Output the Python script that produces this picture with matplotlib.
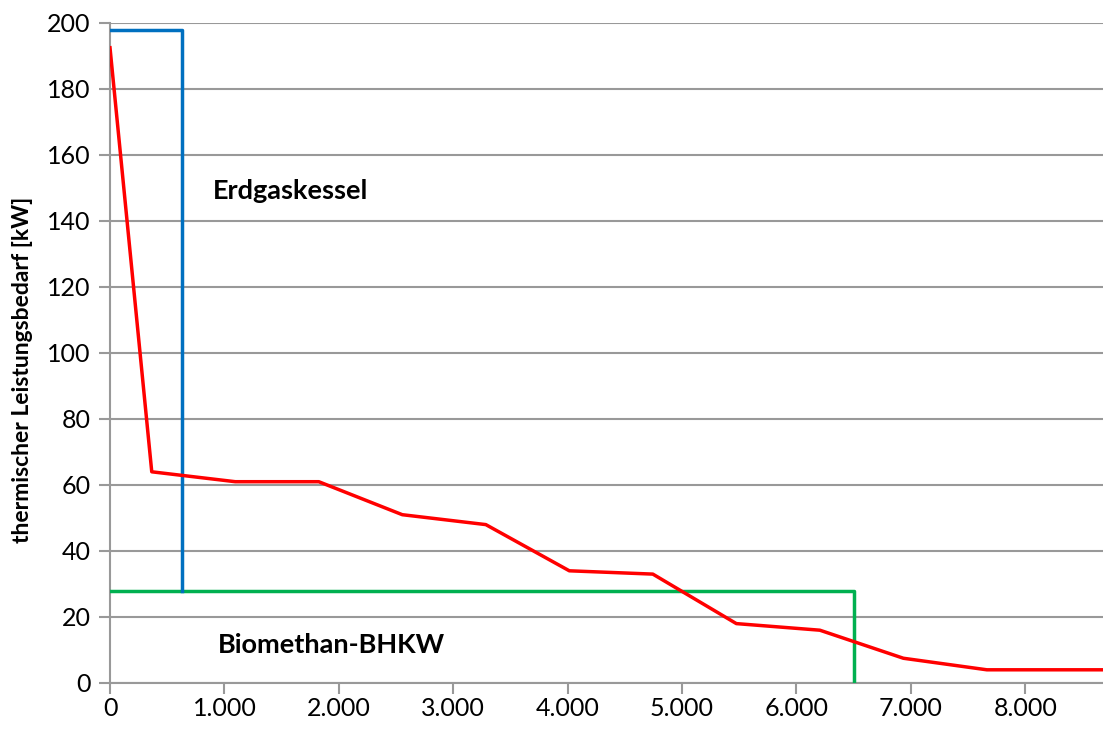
import numpy as np
from matplotlib import pyplot as plt

plt.rcParams['font.family'] = ['Lato', 'DejaVu Sans']

# load duration curve (hours of year vs heat demand)
hours = [0, 365, 1095, 1825, 2555, 3285, 4015, 4745, 5475, 6205, 6935, 7665, 8760]
demand = [192.5, 64, 61, 61, 51, 48, 34, 33, 18, 16, 7.5, 4, 4]

# peak boiler block
boiler_x = [0, 630, 630]
boiler_y = [198, 198, 28]

# CHP block
chp_x = [0, 6500, 6500]
chp_y = [28, 28, 0]

x_ticks = [0, 1000, 2000, 3000, 4000, 5000, 6000, 7000, 8000]
x_labels = ['0', '1.000', '2.000', '3.000', '4.000', '5.000', '6.000', '7.000', '8.000']
y_ticks = list(range(0, 201, 20))

fig = plt.figure(figsize=(11.03, 7.29), dpi=100)
ax = fig.add_axes([110 / 1103, 1 - 683 / 729, 1 - 110 / 1103, (683 - 23) / 729])

ax.plot(chp_x, chp_y, color='#00b050', lw=2.5, zorder=3)
ax.plot(boiler_x, boiler_y, color='#0070c0', lw=2.5, zorder=3)
ax.plot(hours, demand, color='#ff0000', lw=2.5, zorder=4)

ax.set_xlim(0, 8680)
ax.set_ylim(0, 200)
ax.set_xticks(x_ticks)
ax.set_xticklabels(x_labels)
ax.set_yticks(y_ticks)
ax.grid(axis='y', color='#999999', lw=1.5)
ax.set_axisbelow(True)
for s in ['top', 'right']:
    ax.spines[s].set_visible(False)
for s in ['left', 'bottom']:
    ax.spines[s].set_color('#999999')
    ax.spines[s].set_linewidth(1.5)
ax.tick_params(axis='both', length=8, width=1.5, color='#999999', labelsize=18, pad=6)
ax.tick_params(axis='x', pad=2)

ax.set_ylabel('thermischer Leistungsbedarf [kW]', fontsize=16.5, fontweight='bold')
ax.yaxis.set_label_coords(-0.078, 0.474)

ax.text(900, 149, 'Erdgaskessel', fontsize=19.5, fontweight='bold', va='center')
ax.text(940, 11.5, 'Biomethan-BHKW', fontsize=19.5, fontweight='bold', va='center')

plt.savefig('out.png', dpi=100)
